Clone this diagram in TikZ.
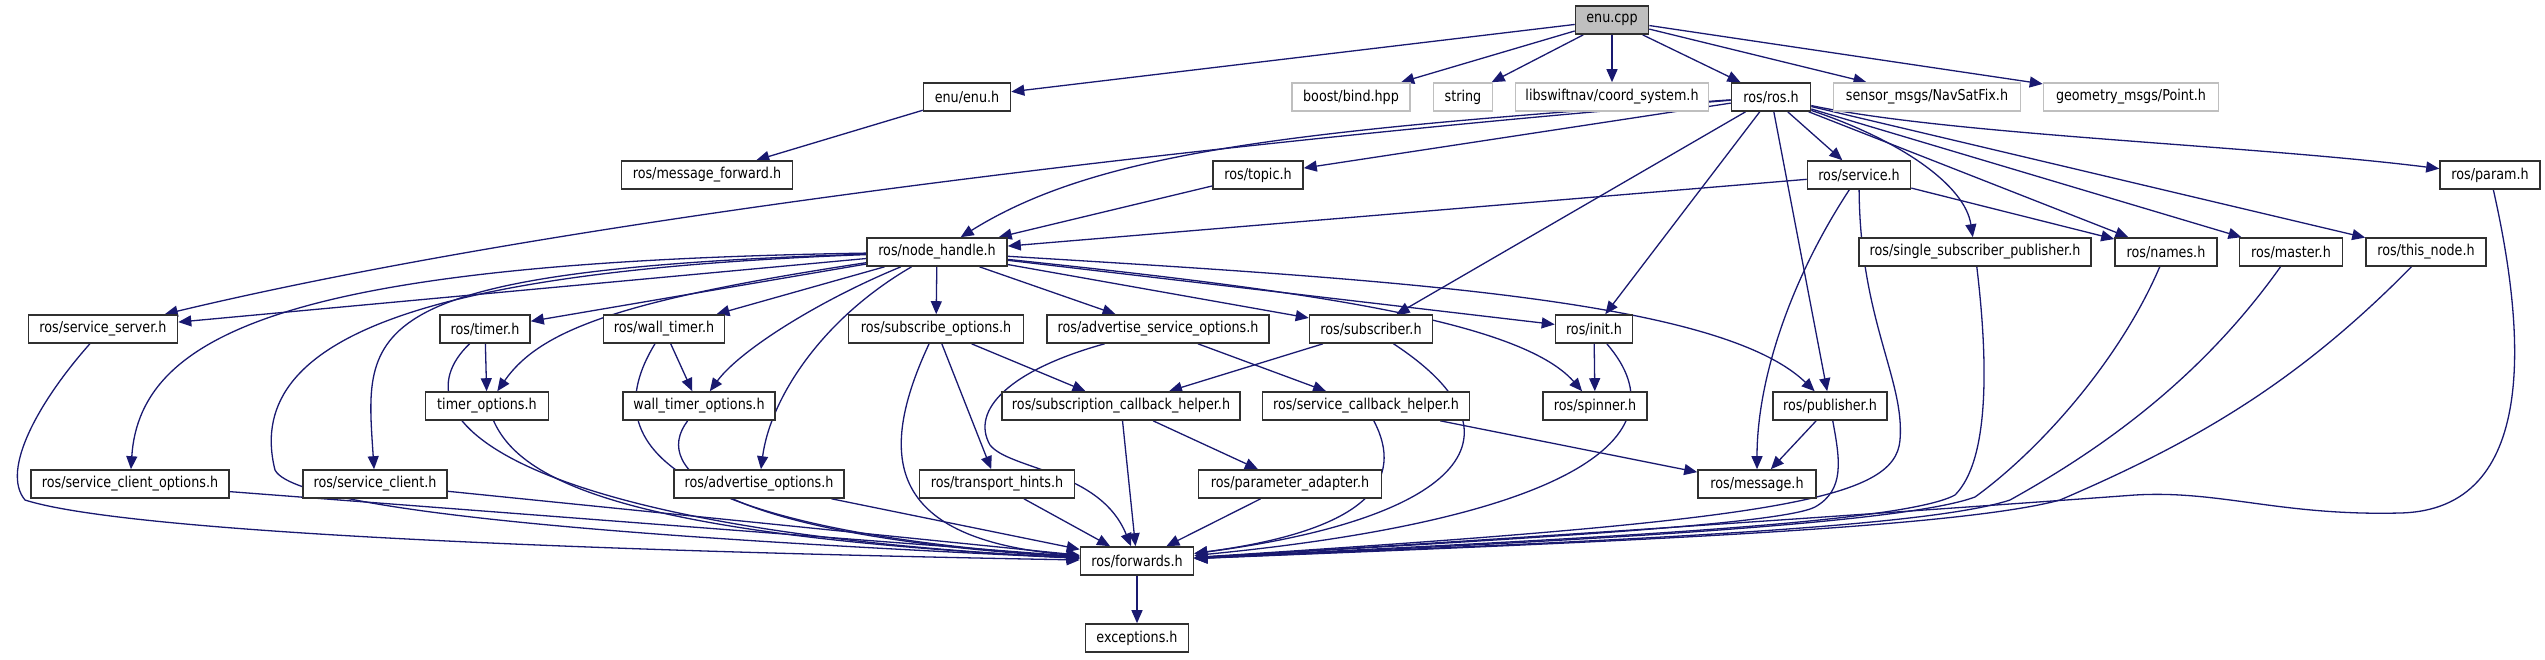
\documentclass[tikz,border=0pt]{standalone}
\usepackage{fontspec}
\setmainfont{DejaVu Sans}[FakeStretch=0.85]
\usepackage{tikz}
\usetikzlibrary{arrows.meta,backgrounds}
\definecolor{edgeblue}{HTML}{191970}
\definecolor{extgray}{HTML}{BFBFBF}
\definecolor{boxline}{HTML}{303030}
\tikzset{>={Triangle[length=13pt,width=11pt]}}
\tikzset{
    hdr/.style={draw=boxline, line width=1.6pt, fill=white, minimum height=28pt,
        inner sep=0pt, font=\fontsize{15}{18}\selectfont},
    ext/.style={hdr, draw=extgray},
    src/.style={hdr, fill=extgray},
    dep/.style={->, draw=edgeblue, line width=1.3pt}
}

\begin{document}
\begin{tikzpicture}[x=1pt, y=-1pt]
    \useasboundingbox (0,0) rectangle (2545,659);
    % rank 1 and 2
    \node[src, minimum width=73pt]  (enucpp) at (1612,20) {enu.cpp};
    \node[hdr, minimum width=87pt]  (enuh)    at (967,97)  {enu/enu.h};
    \node[ext, minimum width=118pt] (boost)   at (1351,97) {boost/bind.hpp};
    \node[ext, minimum width=59pt]  (stringh) at (1463,97) {string};
    \node[ext, minimum width=193pt] (coord)   at (1612,97) {libswiftnav/coord\_system.h};
    \node[hdr, minimum width=79pt]  (rosh)    at (1771,97) {ros/ros.h};
    \node[ext, minimum width=187pt] (navsat)  at (1927,97) {sensor\_msgs/NavSatFix.h};
    \node[ext, minimum width=175pt] (point)   at (2131,97) {geometry\_msgs/Point.h};
    % rank 3 and 4
    \node[hdr, minimum width=171pt] (msgfwd)     at (707,175)  {ros/message\_forward.h};
    \node[hdr, minimum width=90pt]  (topic)      at (1258,175) {ros/topic.h};
    \node[hdr, minimum width=103pt] (service)    at (1859,175) {ros/service.h};
    \node[hdr, minimum width=100pt] (param)      at (2490,175) {ros/param.h};
    \node[hdr, minimum width=140pt] (nodehandle) at (937,252)  {ros/node\_handle.h};
    \node[hdr, minimum width=232pt] (ssp)        at (1975,252) {ros/single\_subscriber\_publisher.h};
    \node[hdr, minimum width=102pt] (names)      at (2166,252) {ros/names.h};
    \node[hdr, minimum width=103pt] (master)     at (2291,252) {ros/master.h};
    \node[hdr, minimum width=120pt] (thisnode)   at (2426,252) {ros/this\_node.h};
    % rank 5 and 6
    \node[hdr, minimum width=149pt] (srvserver)  at (103,329)  {ros/service\_server.h};
    \node[hdr, minimum width=90pt]  (timer)      at (485,329)  {ros/timer.h};
    \node[hdr, minimum width=121pt] (walltimer)  at (664,329)  {ros/wall\_timer.h};
    \node[hdr, minimum width=175pt] (subopts)    at (936,329)  {ros/subscribe\_options.h};
    \node[hdr, minimum width=222pt] (advsrvopts) at (1158,329) {ros/advertise\_service\_options.h};
    \node[hdr, minimum width=123pt] (subscriber) at (1371,329) {ros/subscriber.h};
    \node[hdr, minimum width=77pt]  (init)       at (1594,329) {ros/init.h};
    \node[hdr, minimum width=123pt] (timeropts)     at (487,406)  {timer\_options.h};
    \node[hdr, minimum width=152pt] (walltimeropts) at (699,406)  {wall\_timer\_options.h};
    \node[hdr, minimum width=238pt] (subcb)         at (1121,406) {ros/subscription\_callback\_helper.h};
    \node[hdr, minimum width=207pt] (srvcb)         at (1366,406) {ros/service\_callback\_helper.h};
    \node[hdr, minimum width=104pt] (spinner)       at (1595,406) {ros/spinner.h};
    \node[hdr, minimum width=114pt] (publisher)     at (1830,406) {ros/publisher.h};
    % rank 7, 8 and 9
    \node[hdr, minimum width=198pt] (srvclientopts) at (130,484)  {ros/service\_client\_options.h};
    \node[hdr, minimum width=144pt] (srvclient)     at (375,484)  {ros/service\_client.h};
    \node[hdr, minimum width=170pt] (advopts)       at (759,484)  {ros/advertise\_options.h};
    \node[hdr, minimum width=155pt] (transport)     at (997,484)  {ros/transport\_hints.h};
    \node[hdr, minimum width=183pt] (paramadapter)  at (1290,484) {ros/parameter\_adapter.h};
    \node[hdr, minimum width=118pt] (message)       at (1757,484) {ros/message.h};
    \node[hdr, minimum width=113pt] (forwards)      at (1137,561) {ros/forwards.h};
    \node[hdr, minimum width=103pt] (exceptions)    at (1137,638) {exceptions.h};

    \begin{scope}[on background layer]
    \draw[dep] (enucpp) -- (enuh);
    \draw[dep] (enucpp) -- (boost);
    \draw[dep] (enucpp) -- (stringh);
    \draw[dep] (enucpp) -- (coord);
    \draw[dep] (enucpp) -- (rosh);
    \draw[dep] (enucpp) -- (navsat);
    \draw[dep] (enucpp) -- (point);
    \draw[dep] (enuh) -- (msgfwd);
    % ros/ros.h
    \draw[dep] (rosh) -- (topic);
    \draw[dep] (rosh) .. controls (1300,135) and (600,210) .. (srvserver);
    \draw[dep] (rosh) .. controls (1300,130) and (1100,150) .. (nodehandle);
    \draw[dep] (rosh) -- (service);
    \draw[dep] (rosh) .. controls (1900,140) and (1965,185) .. (ssp);
    \draw[dep] (rosh) -- (names);
    \draw[dep] (rosh) -- (master);
    \draw[dep] (rosh) -- (thisnode);
    \draw[dep] (rosh) .. controls (1950,135) and (2250,145) .. (param);
    \draw[dep] (rosh) -- (subscriber);
    \draw[dep] (rosh) -- (init);
    \draw[dep] (rosh) -- (publisher);
    \draw[dep] (topic) -- (nodehandle);
    \draw[dep] (service) -- (nodehandle);
    \draw[dep] (service) -- (names);
    \draw[dep] (service) .. controls (1790,280) and (1757,380) .. (message);
    \draw[dep] (service) .. controls (1860,320) and (1905,380) .. (1900,440)
        .. controls (1895,500) and (1780,520) .. (forwards);
    % ros/node_handle.h
    \draw[dep] (nodehandle) -- (srvserver);
    \draw[dep] (nodehandle) -- (timer);
    \draw[dep] (nodehandle) .. controls (620,300) and (540,330) .. (timeropts);
    \draw[dep] (nodehandle) -- (walltimer);
    \draw[dep] (nodehandle) .. controls (820,300) and (740,350) .. (walltimeropts);
    \draw[dep] (nodehandle) .. controls (300,262) and (140,330) .. (srvclientopts);
    \draw[dep] (nodehandle) .. controls (350,270) and (365,330) .. (srvclient);
    \draw[dep] (nodehandle) .. controls (450,270) and (240,330) .. (275,470)
        .. controls (300,520) and (800,545) .. (forwards);
    \draw[dep] (nodehandle) .. controls (820,320) and (770,400) .. (advopts);
    \draw[dep] (nodehandle) -- (subopts);
    \draw[dep] (nodehandle) -- (advsrvopts);
    \draw[dep] (nodehandle) -- (subscriber);
    \draw[dep] (nodehandle) -- (init);
    \draw[dep] (nodehandle) .. controls (1300,290) and (1520,320) .. (spinner);
    \draw[dep] (nodehandle) .. controls (1400,280) and (1720,300) .. (publisher);
    % rank 5 and 6
    \draw[dep] (srvserver) .. controls (40,400) and (0,470) .. (25,500)
        .. controls (150,540) and (800,555) .. (forwards);
    \draw[dep] (timer) -- (timeropts);
    \draw[dep] (timer) .. controls (390,420) and (520,530) .. (forwards);
    \draw[dep] (walltimer) -- (walltimeropts);
    \draw[dep] (walltimer) .. controls (590,450) and (680,530) .. (forwards);
    \draw[dep] (subopts) -- (subcb);
    \draw[dep] (subopts) -- (transport);
    \draw[dep] (subopts) .. controls (870,470) and (900,540) .. (forwards);
    \draw[dep] (advsrvopts) -- (srvcb);
    \draw[dep] (advsrvopts) .. controls (1010,370) and (970,410) .. (990,445)
        .. controls (1010,470) and (1100,470) .. (forwards);
    \draw[dep] (subscriber) -- (subcb);
    \draw[dep] (subscriber) .. controls (1540,440) and (1450,520) .. (forwards);
    \draw[dep] (init) -- (spinner);
    \draw[dep] (init) .. controls (1690,440) and (1560,520) .. (forwards);
    \draw[dep] (timeropts) .. controls (520,480) and (620,535) .. (forwards);
    \draw[dep] (walltimeropts) .. controls (650,470) and (720,535) .. (forwards);
    \draw[dep] (subcb) -- (paramadapter);
    \draw[dep] (subcb) -- (forwards);
    \draw[dep] (srvcb) -- (message);
    \draw[dep] (srvcb) .. controls (1405,480) and (1370,530) .. (forwards);
    \draw[dep] (publisher) -- (message);
    \draw[dep] (publisher) .. controls (1840,460) and (1845,490) .. (1815,507)
        .. controls (1780,525) and (1500,540) .. (forwards);
    \draw[dep] (ssp) .. controls (1988,360) and (1990,460) .. (1955,495)
        .. controls (1900,525) and (1550,540) .. (forwards);
    \draw[dep] (names) .. controls (2120,360) and (2040,450) .. (1975,497)
        .. controls (1900,525) and (1550,542) .. (forwards);
    \draw[dep] (master) .. controls (2200,380) and (2100,450) .. (2010,500)
        .. controls (1920,530) and (1550,543) .. (forwards);
    \draw[dep] (thisnode) .. controls (2300,380) and (2200,440) .. (2060,500)
        .. controls (1950,530) and (1550,544) .. (forwards);
    \draw[dep] (param) .. controls (2525,330) and (2540,510) .. (2400,513)
        .. controls (2280,516) and (2220,490) .. (2135,495)
        .. controls (2000,505) and (1500,540) .. (forwards);
    % rank 7
    \draw[dep] (srvclientopts) -- (forwards);
    \draw[dep] (srvclient) -- (forwards);
    \draw[dep] (advopts) -- (forwards);
    \draw[dep] (transport) -- (forwards);
    \draw[dep] (paramadapter) -- (forwards);
    \draw[dep] (forwards) -- (exceptions);
    \end{scope}
\end{tikzpicture}
\end{document}
